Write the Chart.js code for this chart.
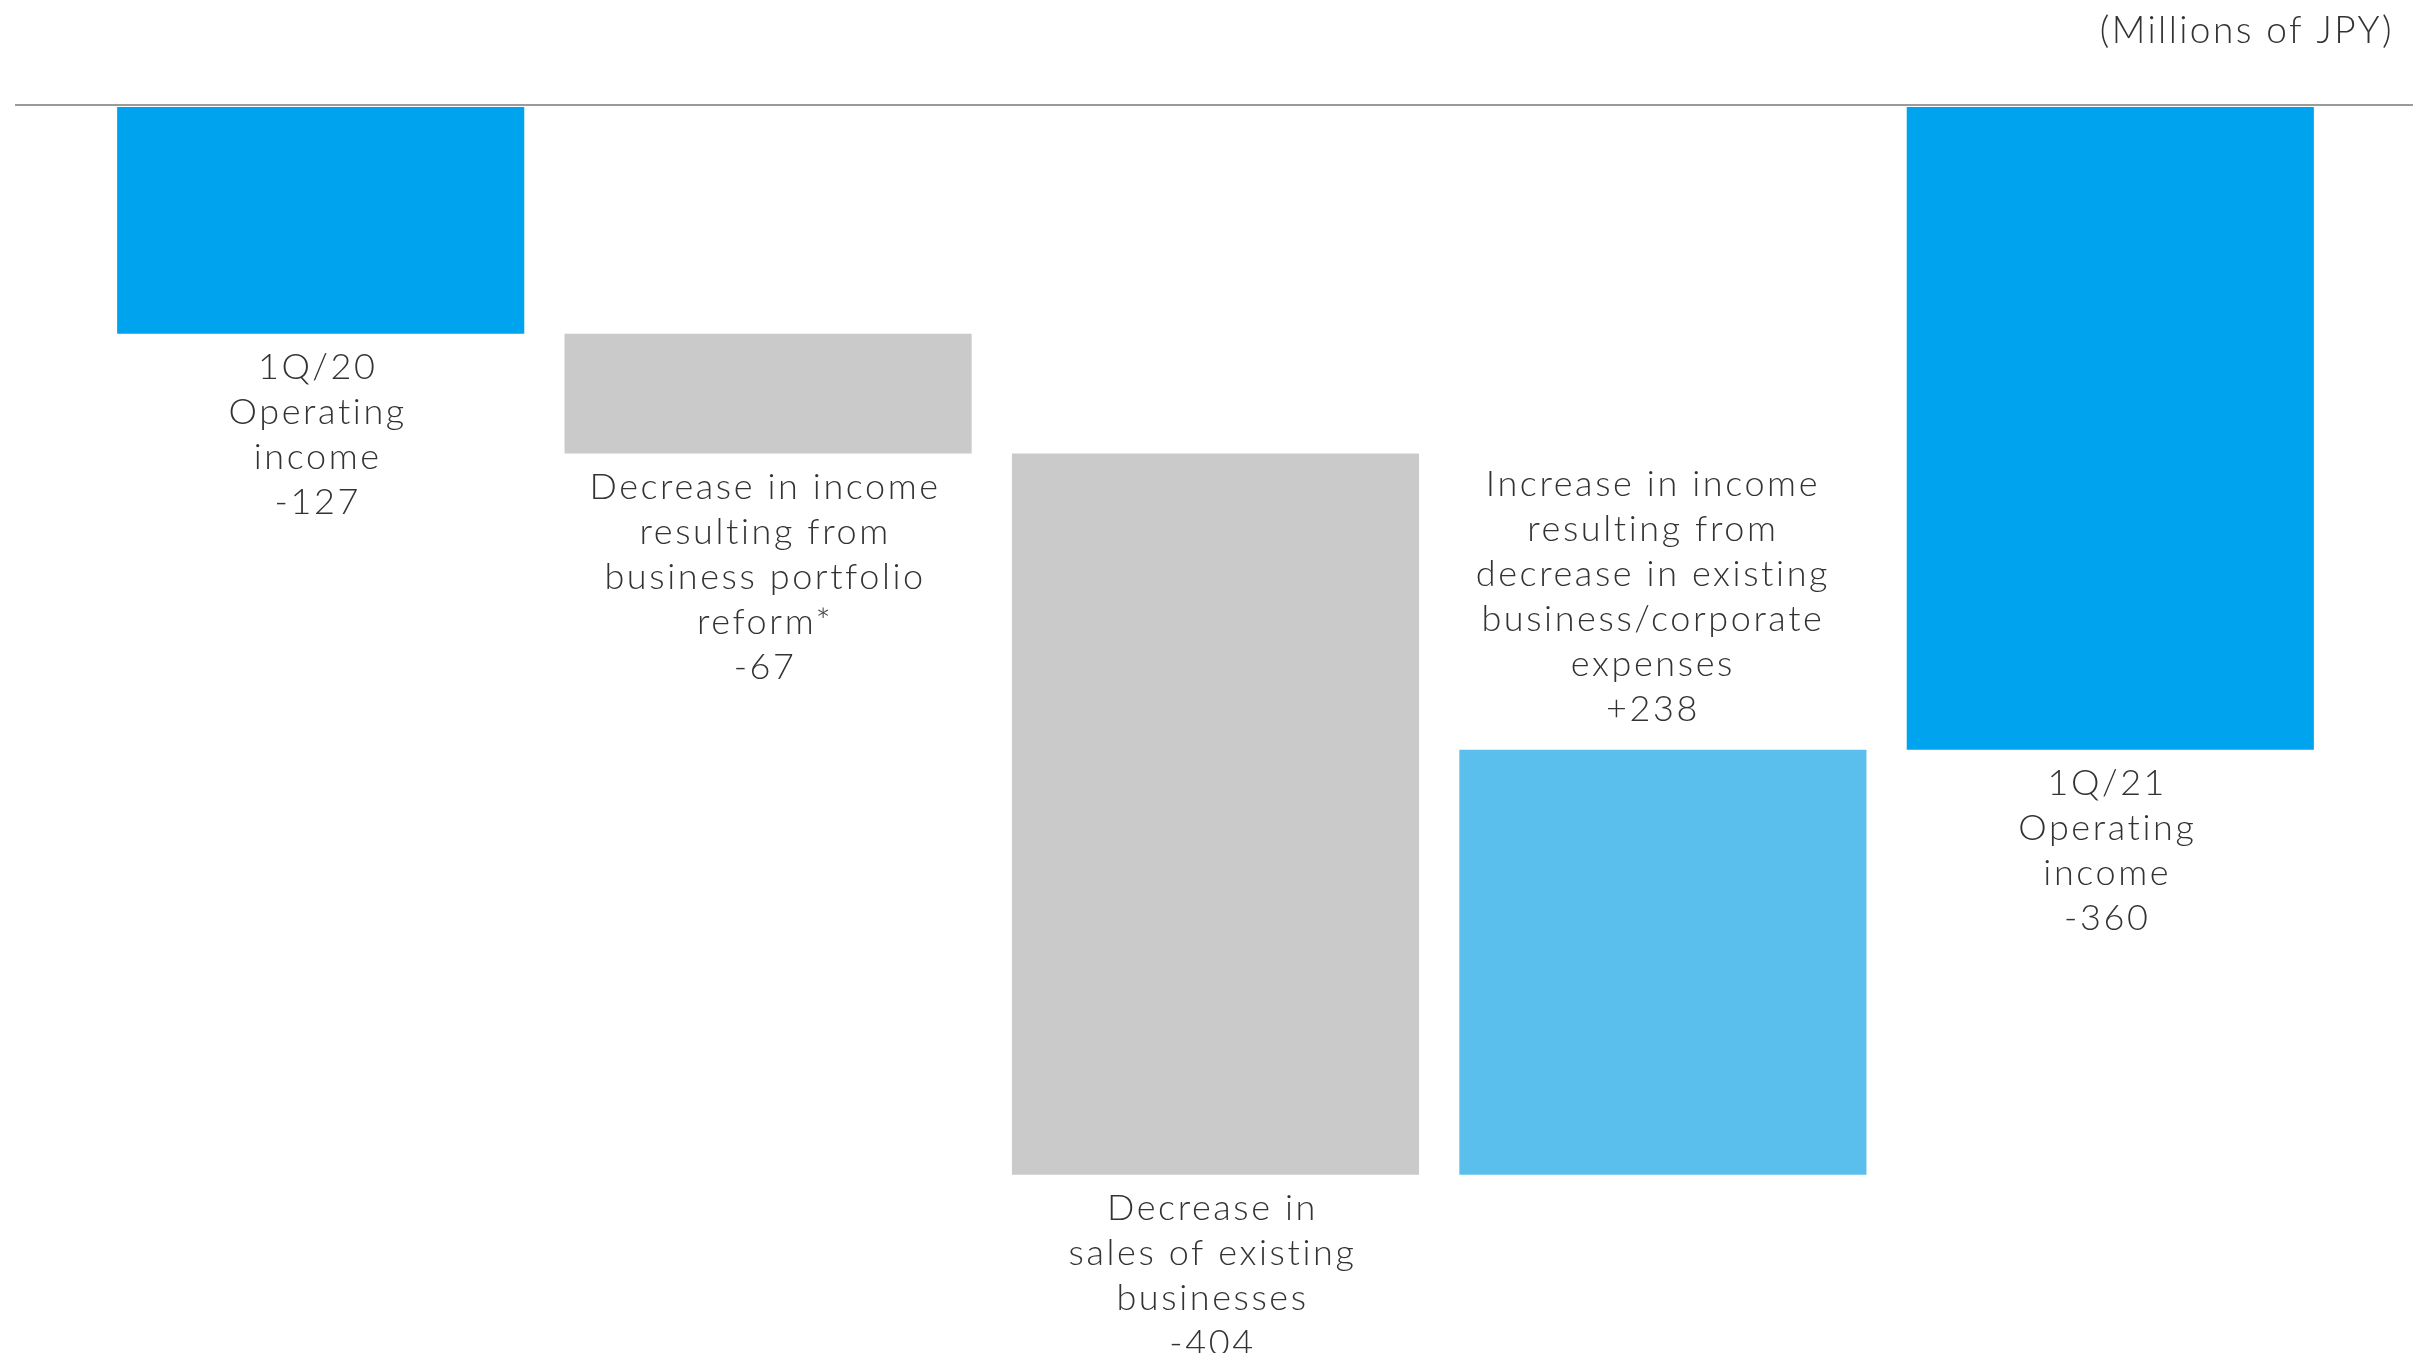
<!DOCTYPE html>
<html>
<head>
<meta charset="utf-8">
<script src="https://cdn.jsdelivr.net/npm/chart.js@4/dist/chart.umd.min.js"></script>
<style>
  html, body { margin: 0; padding: 0; background: #fff; }
  .wrap { position: relative; width: 2421px; height: 1353px; }
</style>
</head>
<body>
<div class="wrap"><canvas id="myChart"></canvas></div>
<script>
const categories = [
  ['1Q/20', 'Operating', 'income'],
  ['Decrease in income', 'resulting from', 'business portfolio', 'reform*'],
  ['Decrease in', 'sales of existing', 'businesses'],
  ['Increase in income', 'resulting from', 'decrease in existing', 'business/corporate', 'expenses'],
  ['1Q/21', 'Operating', 'income'],
];
const changes = [-127, -67, -404, 238, -360];
const isTotal = [true, false, false, false, true];
const valueLabels = ['-127', '-67', '-404', '+238', '-360'];
const barColors = ['#00a3ee', '#cacaca', '#cacaca', '#5bbfee', '#00a3ee'];
const unitLabel = '(Millions of JPY)';

// waterfall ranges: totals start at zero, the steps start where the last bar ended
let running = 0;
const ranges = changes.map(function (v, i) {
  if (isTotal[i]) {
    running = v;
    return [0, v];
  }
  const start = running;
  running += v;
  return [start, running];
});

const labelFont = '300 36px Lato';
const textColor = '#333333';

const waterfallText = {
  id: 'waterfallText',
  afterDatasetsDraw(chart) {
    const ctx = chart.ctx;
    const meta = chart.getDatasetMeta(0);
    const yZero = chart.scales.y.getPixelForValue(0);

    // zero line across the full width
    ctx.save();
    ctx.strokeStyle = '#9a9a9a';
    ctx.lineWidth = 2;
    ctx.beginPath();
    ctx.moveTo(15, yZero - 2);
    ctx.lineTo(2413, yZero - 2);
    ctx.stroke();

    ctx.font = labelFont;
    ctx.fillStyle = textColor;
    ctx.textAlign = 'center';
    ctx.textBaseline = 'middle';
    if ('letterSpacing' in ctx) ctx.letterSpacing = '2.6px';
    const lineH = 45;

    meta.data.forEach(function (bar, i) {
      const lines = categories[i].concat([valueLabels[i]]);
      const top = Math.min(bar.y, bar.base);
      const bottom = Math.max(bar.y, bar.base);
      if (changes[i] > 0 && !isTotal[i]) {
        // label sits above a rising step, nudged a little left like the source
        let y = top - 40 - (lines.length - 1) * lineH;
        lines.forEach(function (t) { ctx.fillText(t, bar.x - 10, y); y += lineH; });
      } else {
        let y = bottom + 34;
        lines.forEach(function (t) { ctx.fillText(t, bar.x - 3, y); y += lineH; });
      }
    });

    ctx.textAlign = 'right';
    ctx.font = '300 37px Lato';
    if ('letterSpacing' in ctx) ctx.letterSpacing = '2.4px';
    ctx.fillText(unitLabel, 2394, 31);
    ctx.restore();
  },
};

const ctx = document.getElementById('myChart').getContext('2d');
const myChart = new Chart(ctx, {
  type: 'bar',
  data: {
    labels: categories.map(function (c) { return c.join(' '); }),
    datasets: [
      {
        data: ranges,
        backgroundColor: barColors,
        borderWidth: 0,
        barPercentage: 0.91,
        categoryPercentage: 1,
      },
    ],
  },
  options: {
    responsive: true,
    maintainAspectRatio: false,
    animation: false,
    layout: { padding: { top: 107, bottom: 14, left: 97, right: 87 } },
    plugins: {
      legend: { display: false },
      tooltip: { enabled: false },
    },
    scales: {
      x: { display: false },
      y: { display: false, min: -690, max: 0 },
    },
  },
  plugins: [waterfallText],
});
</script>
</body>
</html>
